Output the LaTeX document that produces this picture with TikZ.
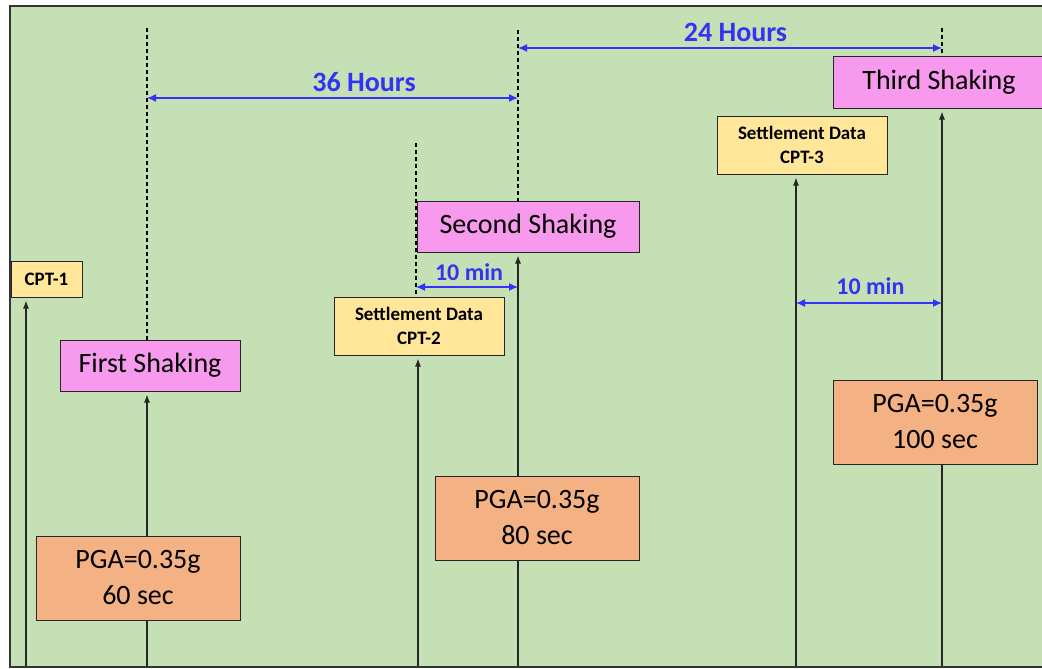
\documentclass[tikz,border=0pt]{standalone}
\usepackage{fontspec}
\setmainfont{Carlito}
\usetikzlibrary{arrows.meta,positioning}

\definecolor{bggreen}{HTML}{C5E0B4}
\definecolor{shakepink}{HTML}{F799EC}
\definecolor{pgaorange}{HTML}{F4B183}
\definecolor{cptyellow}{HTML}{FFE699}
\definecolor{timeblue}{HTML}{3333F5}
\definecolor{edgegray}{HTML}{262626}

\pgfdeclarelayer{bg}
\pgfdeclarelayer{lines}
\pgfsetlayers{bg,lines,main}

\begin{document}
\begin{tikzpicture}[x=1pt,y=-1pt,>={Latex[length=8pt,width=6pt]}]
  \tikzstyle{shake}=[draw=edgegray,line width=1pt,fill=shakepink,minimum height=51pt,inner sep=0pt,font=\fontsize{28}{34}\selectfont]
  \tikzstyle{pga}=[draw=edgegray,line width=1pt,fill=pgaorange,minimum width=204pt,minimum height=84pt,inner sep=0pt,align=center,font=\fontsize{28}{36}\selectfont]
  \tikzstyle{cpt}=[draw=edgegray,line width=1pt,fill=cptyellow,inner sep=0pt,align=center,font=\fontsize{19}{24}\selectfont\bfseries]
  \tikzstyle{timeline}=[draw=black!85,line width=1.2pt,->,shorten >=3pt]
  \tikzstyle{marker}=[black,line width=1.2pt,dash pattern=on 4pt off 3pt]
  \tikzstyle{interval}=[timeblue,line width=1.2pt,>={Latex[length=9pt,width=8pt]},<->]
  \tikzstyle{spanlabel}=[text=timeblue,inner sep=1pt,font=\fontsize{28}{34}\selectfont\bfseries]

  \useasboundingbox (0,0) rectangle (1042,669);
  \begin{pgfonlayer}{bg}
    \fill[bggreen] (10,6) rectangle (1042,667);
    \draw[line width=1.6pt,black!80] (1042,6) -- (10,6) -- (10,667) -- (1042,667);
  \end{pgfonlayer}

  \node[shake,minimum width=180pt] (shake1) at (150,365.5) {First Shaking};
  \node[shake,minimum width=222pt] (shake2) at (528,226.5) {Second Shaking};
  \node[shake,minimum width=212pt] (shake3) at (939,82.5) {Third Shaking};

  \node[pga] (pga1) at (138,578) {PGA=0.35g\\60 sec};
  \node[pga] (pga2) at (537,518) {PGA=0.35g\\80 sec};
  \node[pga] (pga3) at (935,422) {PGA=0.35g\\100 sec};

  \node[cpt,minimum width=71pt,minimum height=36pt] (cpt1) at (46.5,279) {CPT-1};
  \node[cpt,minimum width=170pt,minimum height=58pt] (cpt2) at (419,326) {Settlement Data\\CPT-2};
  \node[cpt,minimum width=170pt,minimum height=58pt] (cpt3) at (802,145) {Settlement Data\\CPT-3};

  % time axis feet and dashed marks
  \coordinate (t0) at (26,666);
  \coordinate (t1) at (147,666);
  \coordinate (t2a) at (418,666);
  \coordinate (t2) at (518,666);
  \coordinate (t3a) at (796,666);
  \coordinate (t3) at (942,666);
  \coordinate (m1) at (147,28);
  \coordinate (m2a) at (416,143);
  \coordinate (m2) at (518,30);
  \coordinate (m3) at (942,28);
  \coordinate (row36) at (0,98);
  \coordinate (row24) at (0,48);
  \coordinate (row10a) at (0,287);
  \coordinate (row10b) at (0,303);

  \begin{pgfonlayer}{lines}
    \draw[timeline] (t0) -- (t0 |- cpt1.south);
    \draw[timeline] (t1) -- (t1 |- shake1.south);
    \draw[timeline] (t2a) -- (t2a |- cpt2.south);
    \draw[timeline] (t2) -- (t2 |- shake2.south);
    \draw[timeline] (t3a) -- (t3a |- cpt3.south);
    \draw[timeline] (t3) -- (t3 |- shake3.south);

    \draw[marker] (m1) -- (m1 |- shake1.north);
    \draw[marker] (m2a) -- (m2a |- cpt2.north);
    \draw[marker] (m2) -- (m2 |- shake2.north);
    \draw[marker] (m3) -- (m3 |- shake3.north);
  \end{pgfonlayer}

  \draw[interval] (m1 |- row36) -- (m2 |- row36) node[spanlabel,pos=0.585,above=5pt] {36 Hours};
  \draw[interval] (m2 |- row24) -- (m3 |- row24) node[spanlabel,pos=0.513,above=5pt] {24 Hours};
  \draw[interval] (m2a |- row10a) -- (m2 |- row10a) node[spanlabel,pos=0.52,above=5pt,font=\fontsize{24}{28}\selectfont\bfseries] {10 min};
  \draw[interval] (t3a |- row10b) -- (t3 |- row10b) node[spanlabel,pos=0.51,above=7pt,font=\fontsize{24}{28}\selectfont\bfseries] {10 min};
\end{tikzpicture}
\end{document}
